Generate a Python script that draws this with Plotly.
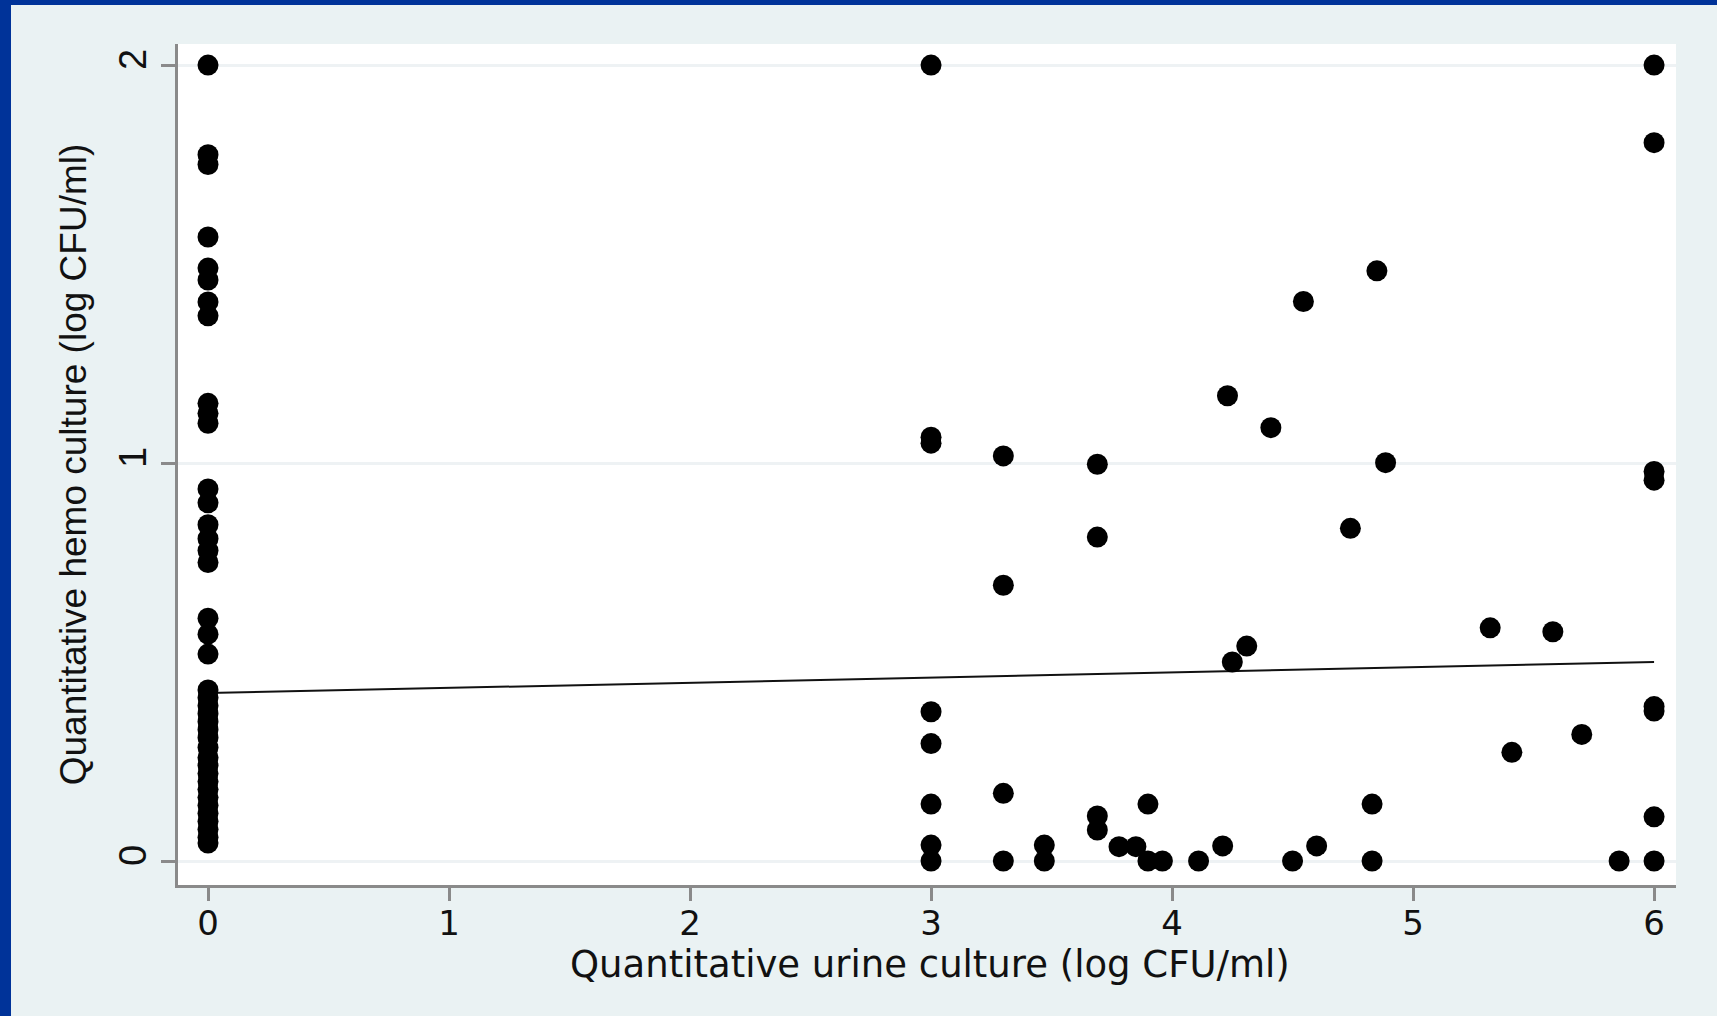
import plotly.graph_objects as go

# ---- data ----
urine_zero = [0.0] * 40
hemo_zero = [2.00, 1.775, 1.75, 1.568, 1.49, 1.46, 1.405, 1.37, 1.15, 1.125,
             1.10, 0.935, 0.90, 0.845, 0.81, 0.78, 0.75, 0.61, 0.57, 0.52,
             0.43, 0.41, 0.39, 0.37, 0.35, 0.33, 0.31, 0.285, 0.26, 0.24,
             0.22, 0.20, 0.18, 0.16, 0.14, 0.12, 0.10, 0.08, 0.06, 0.045]

urine_pos = [3.0, 3.0, 3.0, 3.0, 3.0, 3.0, 3.0, 3.0,
             3.3, 3.3, 3.3, 3.3,
             3.47, 3.47,
             3.69, 3.69, 3.69, 3.69,
             3.78, 3.85, 3.90, 3.90, 3.96,
             4.11, 4.21, 4.25, 4.31, 4.23, 4.41, 4.50, 4.545, 4.60, 4.74,
             4.83, 4.83, 4.85, 4.886,
             5.32, 5.58, 5.41, 5.70, 5.855,
             6.0, 6.0, 6.0, 6.0, 6.0, 6.0, 6.0, 6.0]
hemo_pos = [2.0, 1.065, 1.05, 0.375, 0.295, 0.143, 0.04, 0.0,
            1.018, 0.693, 0.17, 0.0,
            0.04, 0.0,
            0.997, 0.814, 0.113, 0.078,
            0.036, 0.036, 0.143, 0.0, 0.0,
            0.0, 0.038, 0.50, 0.54, 1.169, 1.089, 0.0, 1.406, 0.038, 0.836,
            0.143, 0.0, 1.483, 1.001,
            0.586, 0.576, 0.273, 0.318, 0.0,
            2.0, 1.805, 0.979, 0.957, 0.388, 0.377, 0.111, 0.0]

fit_x = [0.0, 6.0]
fit_y = [0.422, 0.50]

x_ticks = [0, 1, 2, 3, 4, 5, 6]
y_ticks = [0, 1, 2]

x_title = "Quantitative urine culture (log CFU/ml)"
y_title = "Quantitative hemo culture (log CFU/ml)"

# ---- layout geometry (pixels) ----
W, H = 1717, 1016
ML, MR, MT, MB = 178, 41, 44, 131
PW, PH = W - ML - MR, H - MT - MB

def px_to_paper_x(px):
    return (px - ML) / PW

def px_to_paper_y(py):
    return (H - MB - py) / PH

BG = "#EAF2F3"
AX = "#8A8A8A"
BLUE = "#003399"

fig = go.Figure()

fig.add_trace(go.Scatter(
    x=fit_x, y=fit_y, mode="lines",
    line=dict(color="#111111", width=2),
    showlegend=False, hoverinfo="skip"))

fig.add_trace(go.Scatter(
    x=urine_zero + urine_pos, y=hemo_zero + hemo_pos, mode="markers",
    marker=dict(color="black", size=21, line=dict(width=0)),
    showlegend=False))

fig.update_layout(
    width=W, height=H,
    margin=dict(l=ML, r=MR, t=MT, b=MB, pad=0),
    paper_bgcolor=BG, plot_bgcolor="white",
    xaxis=dict(
        range=[-0.1245, 6.091], tickvals=x_ticks, ticktext=[str(t) for t in x_ticks],
        showgrid=False, zeroline=False,
        showline=True, linecolor=AX, linewidth=3,
        ticks="outside", ticklen=13, tickwidth=3, tickcolor=AX,
        ticklabelstandoff=-7,
        tickfont=dict(family="DejaVu Sans", size=34, color="#111111"),
        automargin=False),
    yaxis=dict(
        range=[-0.0603, 2.053], tickvals=y_ticks, ticktext=[str(t) for t in y_ticks],
        tickangle=-90,
        showgrid=True, gridcolor="#EEF2F4", gridwidth=3, zeroline=False,
        showline=True, linecolor=AX, linewidth=3,
        ticks="outside", ticklen=14, tickwidth=3, tickcolor=AX,
        tickfont=dict(family="Liberation Sans", size=38, color="#111111"),
        title=dict(text=y_title,
                   font=dict(family="Liberation Sans", size=37, color="#111111"),
                   standoff=14),
        automargin=False),
    annotations=[
        dict(text=x_title, xref="paper", yref="paper",
             x=px_to_paper_x(930), y=px_to_paper_y(965),
             xanchor="center", yanchor="middle", showarrow=False,
             font=dict(family="DejaVu Sans", size=37, color="#111111")),
    ],
    shapes=[
        dict(type="rect", xref="paper", yref="paper", layer="above",
             x0=px_to_paper_x(0), x1=px_to_paper_x(11),
             y0=px_to_paper_y(H), y1=px_to_paper_y(0),
             fillcolor=BLUE, line=dict(width=0)),
        dict(type="rect", xref="paper", yref="paper", layer="above",
             x0=px_to_paper_x(0), x1=px_to_paper_x(W),
             y0=px_to_paper_y(5), y1=px_to_paper_y(0),
             fillcolor=BLUE, line=dict(width=0)),
    ],
)

fig.write_html("out.html")
